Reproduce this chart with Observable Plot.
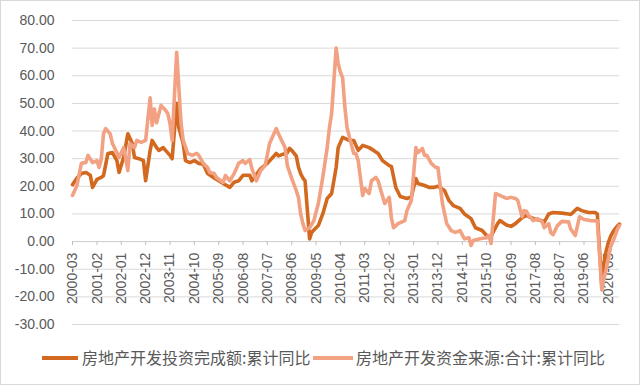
<!DOCTYPE html>
<html><head><meta charset="utf-8">
<script src="https://cdn.jsdelivr.net/npm/d3@7"></script>
<script src="https://cdn.jsdelivr.net/npm/@observablehq/plot@0.6"></script>
<style>
html,body{margin:0;padding:0;background:#fff;}
#wrap{position:relative;width:640px;height:385px;overflow:hidden;font-family:"Liberation Sans","Noto Sans CJK SC",sans-serif;}
#frame{position:absolute;left:0;top:0;width:638px;height:383px;border:1px solid #d9d9d9;pointer-events:none;}
.sw{position:absolute;height:4px;}
.lt{position:absolute;font-family:"Noto Sans CJK SC",sans-serif;font-size:16px;color:#595959;line-height:20px;white-space:nowrap;}
</style></head>
<body><div id="wrap"><div id="chart"></div>
<div class="sw" style="left:42px;top:356px;width:36px;background:#D2691F"></div>
<div class="lt" id="l1" style="left:82px;top:347px"></div>
<div class="sw" style="left:313px;top:356px;width:40px;background:#F2A283"></div>
<div class="lt" id="l2" style="left:356px;top:347px"></div>
<div id="frame"></div></div>
<script>
const seriesNames = ["房地产开发投资完成额:累计同比", "房地产开发资金来源:合计:累计同比"];
const seriesColors = ["#D2691F", "#F2A283"];

const investDates = ["2000-03","2000-05","2000-07","2000-09","2000-11","2000-12","2001-02","2001-04","2001-05","2001-07","2001-09","2001-11","2001-12","2002-02","2002-04","2002-06","2002-07","2002-09","2002-11","2002-12","2003-02","2003-03","2003-05","2003-06","2003-08","2003-09","2003-11","2003-12","2004-02","2004-03","2004-05","2004-06","2004-08","2004-10","2004-12","2005-02","2005-04","2005-07","2005-09","2005-11","2006-02","2006-04","2006-06","2006-08","2006-11","2006-12","2007-04","2007-07","2007-11","2007-12","2008-04","2008-05","2008-06","2008-08","2008-09","2008-10","2008-11","2008-12","2009-02","2009-03","2009-04","2009-06","2009-08","2009-10","2009-12","2010-02","2010-03","2010-05","2010-08","2010-10","2010-12","2011-02","2011-05","2011-07","2011-09","2011-11","2012-02","2012-03","2012-05","2012-07","2012-10","2012-12","2013-02","2013-03","2013-06","2013-08","2013-10","2013-12","2014-03","2014-05","2014-07","2014-10","2014-12","2015-03","2015-05","2015-08","2015-10","2015-11","2015-12","2016-03","2016-04","2016-07","2016-09","2016-11","2017-02","2017-04","2017-06","2017-08","2017-11","2017-12","2018-02","2018-04","2018-08","2018-11","2018-12","2019-03","2019-05","2019-08","2019-11","2019-12","2020-02","2020-03","2020-04","2020-05","2020-06","2020-07","2020-08","2020-09","2020-10"];
const investValues = [20.6,23.0,24.6,25.0,24.0,19.6,22.5,23.2,23.9,31.9,32.2,29.3,25.0,30.4,39.0,35.5,30.4,30.0,29.3,22.0,33.0,36.6,34.0,33.0,34.0,33.0,31.2,30.0,50.0,41.3,35.5,29.3,28.6,29.3,28.3,28.0,24.6,23.0,22.0,21.0,19.6,21.5,22.0,24.0,24.0,22.0,26.4,28.3,31.9,31.0,32.2,33.7,33.0,31.0,27.0,24.6,23.0,22.0,1.0,3.3,4.2,5.8,10.0,15.6,17.4,26.8,34.0,37.7,36.6,36.6,33.0,34.8,34.0,33.0,31.9,29.3,27.5,27.2,19.6,16.3,15.6,16.2,22.8,21.0,20.3,19.6,19.6,20.0,18.5,14.9,13.0,12.0,10.0,8.3,5.0,4.0,2.2,1.4,2.0,6.5,7.6,6.0,5.5,6.5,8.7,9.5,8.7,8.1,7.5,7.0,10.0,10.5,10.3,10.0,9.8,12.0,11.2,10.5,10.5,10.0,-16.3,-7.7,-3.3,-0.3,1.9,3.4,4.6,5.6,6.3];

const fundDates = ["2000-03","2000-05","2000-07","2000-09","2000-10","2000-12","2001-02","2001-03","2001-04","2001-05","2001-06","2001-08","2001-09","2001-11","2001-12","2002-02","2002-03","2002-04","2002-05","2002-07","2002-08","2002-10","2002-12","2003-02","2003-03","2003-04","2003-05","2003-07","2003-09","2003-10","2003-11","2003-12","2004-02","2004-04","2004-05","2004-07","2004-09","2004-11","2004-12","2005-02","2005-04","2005-05","2005-07","2005-08","2005-11","2005-12","2006-02","2006-04","2006-06","2006-08","2006-09","2006-11","2006-12","2007-02","2007-04","2007-06","2007-08","2007-11","2007-12","2008-03","2008-04","2008-06","2008-08","2008-09","2008-10","2008-11","2008-12","2009-02","2009-04","2009-06","2009-08","2009-10","2009-11","2009-12","2010-02","2010-03","2010-04","2010-05","2010-06","2010-07","2010-09","2010-10","2010-11","2010-12","2011-02","2011-03","2011-05","2011-06","2011-08","2011-09","2011-10","2011-12","2012-02","2012-03","2012-04","2012-06","2012-09","2012-10","2012-12","2013-02","2013-03","2013-05","2013-06","2013-07","2013-09","2013-11","2013-12","2014-02","2014-04","2014-06","2014-08","2014-10","2014-12","2015-02","2015-03","2015-04","2015-07","2015-10","2015-11","2015-12","2016-02","2016-04","2016-07","2016-09","2016-11","2016-12","2017-02","2017-03","2017-04","2017-05","2017-06","2017-07","2017-09","2017-11","2017-12","2018-02","2018-03","2018-04","2018-06","2018-08","2018-11","2018-12","2019-02","2019-04","2019-06","2019-09","2019-12","2020-02","2020-03","2020-04","2020-05","2020-06","2020-07","2020-08","2020-09","2020-10"];
const fundValues = [16.7,20.3,28.3,28.6,31.2,28.6,29.3,26.8,30.0,39.0,40.9,39.0,35.5,32.2,30.4,34.0,30.4,25.7,35.5,34.0,36.6,35.9,36.6,52.0,42.0,48.0,43.0,49.3,47.5,46.4,42.8,36.6,68.5,42.8,36.6,31.9,31.2,31.9,31.2,28.3,26.8,25.0,24.6,23.2,21.4,23.9,22.0,24.6,28.3,29.3,28.3,29.7,26.4,22.0,25.7,27.5,35.5,40.9,39.0,34.0,27.5,22.8,18.5,16.0,10.0,6.5,4.0,5.0,7.6,13.8,23.2,34.0,41.3,46.4,70.0,64.5,61.2,59.4,48.6,41.3,34.8,31.9,31.9,29.3,16.7,19.2,17.4,22.0,23.2,22.0,19.2,13.8,16.0,8.7,5.0,6.5,7.6,11.2,14.9,34.0,32.2,33.7,31.2,31.2,28.3,26.8,26.8,13.8,6.5,4.0,3.3,4.0,1.0,1.4,-1.4,0.4,1.0,1.4,2.2,-0.7,17.4,16.7,15.6,16.0,15.6,15.0,9.0,11.2,11.0,9.4,8.7,7.6,8.3,7.3,5.0,6.5,3.3,2.5,5.8,7.3,7.2,4.5,2.2,9.0,8.0,7.6,7.5,-17.5,-13.5,-10.0,-6.1,-1.9,0.0,2.1,4.4,5.8];

const tickLabels = ["2000-03","2001-02","2002-01","2002-12","2003-11","2004-10","2005-09","2006-08","2007-07","2008-06","2009-05","2010-04","2011-03","2012-02","2013-01","2013-12","2014-11","2015-10","2016-09","2017-08","2018-07","2019-06","2020-05"];
const yTicks = [-30,-20,-10,0,10,20,30,40,50,60,70,80];
const xStart = "2000-03", xEnd = "2020-10";

const parse = s => { const [y,m] = s.split("-").map(Number); return new Date(Date.UTC(y, m-1, 1)); };
const rows = [];
investDates.forEach((d,i) => rows.push({date: parse(d), value: investValues[i], series: seriesNames[0]}));
fundDates.forEach((d,i) => rows.push({date: parse(d), value: fundValues[i], series: seriesNames[1]}));
const ticks = tickLabels.map(parse);

document.getElementById("l1").textContent = seriesNames[0];
document.getElementById("l2").textContent = seriesNames[1];

const chart = Plot.plot({
  width: 640, height: 335,
  marginTop: 20, marginBottom: 11, marginLeft: 72, marginRight: 21,
  style: {fontFamily: '"Liberation Sans","Noto Sans CJK SC",sans-serif', fontSize: "14px", color: "#595959", background: "transparent"},
  x: {type: "utc", domain: [parse(xStart), parse(xEnd)], axis: null},
  y: {domain: [-30, 80], ticks: yTicks, tickFormat: d => d.toFixed(2), tickSize: 0, tickPadding: 18, label: null},
  color: {domain: seriesNames, range: seriesColors},
  marks: [
    Plot.gridY(yTicks, {stroke: "#d9d9d9", strokeOpacity: 1, strokeWidth: 1}),
    Plot.axisY({ticks: yTicks, tickFormat: d => d.toFixed(2), tickSize: 0, tickPadding: 18, fontSize: 14, label: null}),
    Plot.ruleY([0], {stroke: "#d0d0d0"}),
    Plot.ruleX(ticks, {x: d => d, y1: 0, y2: 0, insetTop: 0, insetBottom: -4, stroke: "#bfbfbf"}),
    Plot.text(ticks, {x: d => d, y: 0, text: d => d3.utcFormat("%Y-%m")(d), rotate: -90, textAnchor: "end", dy: 11, fontSize: 14, fill: "#595959"}),
    Plot.line(rows, {x: "date", y: "value", z: "series", stroke: "series", strokeWidth: 3.6, strokeLinejoin: "round", strokeLinecap: "round"})
  ]
});
document.getElementById("chart").appendChild(chart);
</script></body></html>
